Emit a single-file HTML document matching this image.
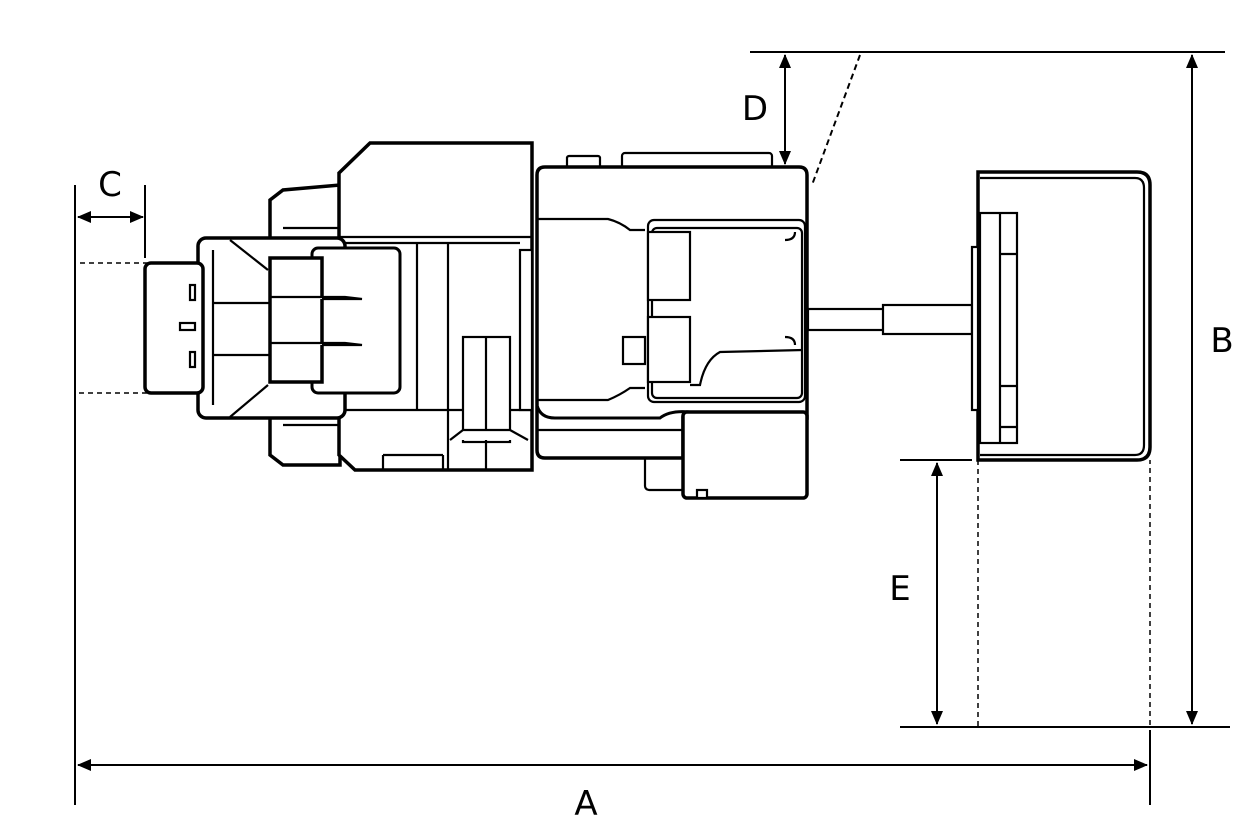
<!DOCTYPE html>
<html><head><style>html,body{margin:0;padding:0;background:#fff}svg{display:block}</style></head><body>
<svg width="1257" height="839" viewBox="0 0 1257 839" xmlns="http://www.w3.org/2000/svg">
<defs><marker id="ah" markerWidth="14" markerHeight="12" refX="13" refY="6" orient="auto-start-reverse" markerUnits="userSpaceOnUse"><path d="M0,0 L14,6 L0,12 z" fill="#000"/></marker></defs>
<g fill="none" stroke="#000" stroke-width="2">
<line x1="75" y1="185" x2="75" y2="805"/>
<line x1="1150" y1="730" x2="1150" y2="805"/>
<line x1="78" y1="765" x2="1147" y2="765" marker-start="url(#ah)" marker-end="url(#ah)"/>
<line x1="750" y1="52" x2="1225" y2="52"/>
<line x1="900" y1="727" x2="1230" y2="727"/>
<line x1="1192" y1="55" x2="1192" y2="724" marker-start="url(#ah)" marker-end="url(#ah)"/>
<line x1="145" y1="185" x2="145" y2="258"/>
<line x1="78" y1="217" x2="143" y2="217" marker-start="url(#ah)" marker-end="url(#ah)"/>
<line x1="785" y1="55" x2="785" y2="164" marker-start="url(#ah)" marker-end="url(#ah)"/>
<line x1="860" y1="55" x2="812" y2="185" stroke-dasharray="6,4"/>
<line x1="900" y1="460" x2="972" y2="460"/>
<line x1="937" y1="463" x2="937" y2="724" marker-start="url(#ah)" marker-end="url(#ah)"/>
<path d="M148,263 H75 V393 H148" stroke-dasharray="5,4" stroke-width="1.5"/>
<path d="M978,460 V727 H1150 V460" stroke-dasharray="5,4" stroke-width="1.5"/>
</g>
<g font-family="'DejaVu Sans','Liberation Sans',sans-serif" font-size="34" fill="#000" text-anchor="middle">
<text x="586" y="815">A</text><text x="1222" y="352">B</text><text x="110" y="196">C</text><text x="755" y="120">D</text><text x="900" y="600">E</text>
</g>
<g fill="#fff" stroke="#000" stroke-width="2.2">
<path d="M270,200 L283,190 L340,185 L340,465 L283,465 L270,455 Z" stroke-width="3.5"/>
<line x1="283" y1="228" x2="340" y2="228"/><line x1="283" y1="425" x2="340" y2="425"/>
<path d="M339,173 L370,143 L532,143 L532,470 L355,470 L339,455 Z" stroke-width="3.5"/>
<line x1="339" y1="237" x2="532" y2="237"/><line x1="339" y1="243" x2="520" y2="243"/>
<line x1="339" y1="410" x2="532" y2="410"/>
<line x1="417" y1="243" x2="417" y2="410"/><line x1="448" y1="243" x2="448" y2="470"/>
<rect x="463" y="337" width="47" height="105"/><line x1="486" y1="337" x2="486" y2="470"/>
<path d="M450,440 L463,430 L510,430 L528,440"/>
<line x1="383" y1="455" x2="383" y2="470"/><line x1="443" y1="455" x2="443" y2="470"/><line x1="383" y1="455" x2="443" y2="455"/>
<rect x="520" y="250" width="12" height="160"/>
<rect x="198" y="238" width="147" height="180" rx="8" stroke-width="3.5"/>
<line x1="213" y1="250" x2="213" y2="405"/>
<line x1="230" y1="240" x2="268" y2="270"/><line x1="268" y1="385" x2="230" y2="417"/>
<line x1="213" y1="303" x2="270" y2="303"/><line x1="213" y1="355" x2="270" y2="355"/>
<rect x="145" y="263" width="58" height="130" rx="6" stroke-width="3.5"/>
<rect x="190" y="285" width="5" height="15"/><rect x="190" y="352" width="5" height="15"/><rect x="180" y="323" width="15" height="7"/>
<rect x="312" y="248" width="88" height="145" rx="6" stroke-width="3"/>
<rect x="270" y="258" width="52" height="124" stroke-width="3.5"/>
<path d="M270,297 H345 L362,299 H322" /><path d="M270,343 H345 L362,345 H322"/>
</g>
<g fill="#fff" stroke="#000" stroke-width="2.2">
<rect x="567" y="156" width="33" height="12" rx="2"/>
<rect x="622" y="153" width="150" height="15" rx="3"/>
<rect x="645" y="455" width="40" height="35" rx="4"/>
<path d="M537,175 Q537,167 545,167 L799,167 Q807,167 807,175 L807,418 L683,418 L683,458 L545,458 Q537,458 537,450 Z" stroke-width="3.5"/>
<line x1="537" y1="430" x2="683" y2="430"/>
<path d="M537,219 H608 Q620,222 630,230 L645,230"/>
<path d="M537,400 H608 Q620,395 630,388 L645,388"/>
<path d="M537,405 Q540,418 555,418 H660 Q670,410 690,412" stroke-width="3"/>
<rect x="648" y="220" width="157" height="182" rx="6"/>
<rect x="652" y="228" width="150" height="170" rx="5"/>
<rect x="648" y="232" width="42" height="68"/><rect x="648" y="317" width="42" height="65"/>
<rect x="623" y="337" width="22" height="27"/>
<path d="M803,350 L720,352 Q705,360 700,385 L690,385"/>
<rect x="683" y="412" width="124" height="86" rx="4" stroke-width="3.5"/>
<rect x="697" y="490" width="10" height="8"/>
<path d="M785,240 Q795,240 795,232"/><path d="M785,337 Q795,337 795,345"/>
</g>
<g fill="#fff" stroke="#000" stroke-width="2.2">
<rect x="808" y="309" width="78" height="21"/>
<rect x="883" y="305" width="89" height="29"/>
</g>
<g fill="#fff" stroke="#000" stroke-width="2.2">
<path d="M978,172 H1137 Q1150,172 1150,185 V447 Q1150,460 1137,460 H978 Z" stroke-width="3.5"/>
<path d="M980,178 H1135 Q1144,178 1144,188 V445 Q1144,455 1135,455 H980" />
<rect x="972" y="247" width="6" height="163"/>
<rect x="980" y="213" width="37" height="230"/>
<line x1="1000" y1="213" x2="1000" y2="443"/>
<line x1="1000" y1="254" x2="1017" y2="254"/><line x1="1000" y1="386" x2="1017" y2="386"/><line x1="1000" y1="427" x2="1017" y2="427"/>
</g>
</svg>
</body></html>
